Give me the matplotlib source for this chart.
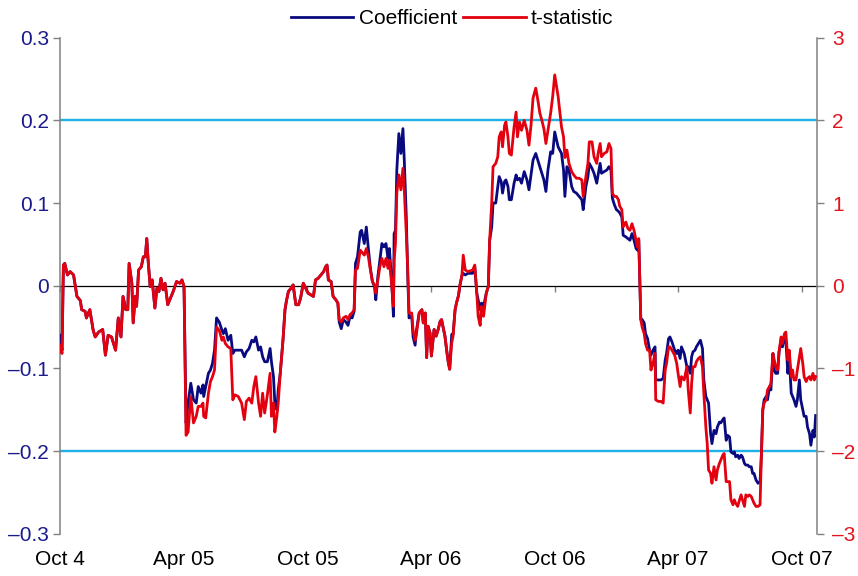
import matplotlib
matplotlib.use("Agg")
import matplotlib.pyplot as plt
import matplotlib.dates as mdates
import pandas as pd

plt.rcParams['font.family'] = ['Liberation Sans', 'DejaVu Sans']

# ---------------- data ----------------
start_date = "2004-10-01"
end_offset_days = 1117

day_offsets = [
    0, 3, 5, 7, 11, 15, 20, 25, 30, 32, 37, 39, 44, 49, 52, 57, 63, 67, 71, 76,
    82, 86, 90, 93, 97, 100, 102, 106, 108, 111, 113, 116, 120, 123, 126, 128, 130, 133, 136, 140,
    143, 146, 149, 152, 155, 159, 162, 167, 172, 177, 180, 183,
    186, 189, 193, 197, 201, 204, 208, 211, 212, 215, 219, 222, 225, 228, 231, 235, 239, 241, 244, 248,
    252, 255, 258, 263, 268, 272, 275, 279, 283, 286, 289, 293, 296, 299, 302, 306, 310, 312, 315, 317,
    320, 322, 325, 329, 332, 334, 337, 341, 344, 348, 352, 355, 359,
    366, 374, 377, 381, 385, 389, 392, 394, 396, 400, 403, 407, 410, 412, 415, 418, 422, 425, 428, 431,
    434, 436, 439, 443, 445, 449, 452, 455, 458, 461, 464, 466, 469, 472, 475, 478, 481, 484, 486, 489,
    492, 493, 495, 497, 500, 503, 506, 508, 511, 513, 515, 519, 521, 524, 526,
    530, 534, 536, 539, 541, 543, 546, 548, 552, 555, 558, 561, 563, 566, 568, 571, 573, 575, 578, 580,
    583, 585, 588, 590, 593,
    595, 598, 602, 609, 612, 615, 617, 620, 622, 625, 629, 632, 634, 637, 639, 643, 646, 648, 651, 653,
    656, 658, 661, 663, 666, 670, 673, 675, 678, 681, 685, 689, 692, 695, 698, 702, 705, 708, 711, 714,
    717, 720, 724, 727,
    730, 735, 740, 743, 745, 748, 751, 755, 758, 762, 766, 770, 772, 776, 779, 781, 785, 788, 792, 794,
    797, 799, 803, 807, 810, 813, 815, 818, 821, 824, 826, 829, 831, 835, 838, 841, 844, 847, 850, 852,
    854,
    857, 859, 862, 864, 867, 870, 872, 875, 878, 879, 883, 887, 890, 893, 895, 898, 900, 903, 907, 910,
    912, 915, 917, 921,
    925, 927, 930, 932, 934, 937, 939, 942, 945, 948, 950, 953, 955, 957, 960, 962, 965, 968, 970, 973,
    975, 978, 980, 983, 985, 988, 990, 993, 995, 997, 1000, 1002, 1005, 1007, 1010, 1012, 1015, 1017, 1020, 1022,
    1024, 1027, 1030, 1033, 1035, 1037, 1039, 1042, 1044, 1047, 1049, 1052, 1054, 1056, 1059, 1061, 1064, 1066, 1069, 1071,
    1074, 1076, 1079, 1081, 1083, 1086, 1088, 1091, 1093, 1096, 1098, 1101, 1103, 1106, 1108, 1111, 1113, 1115,
]

coefficient = [
    -0.060, -0.078, 0.025, 0.027, 0.013, 0.017, 0.013, -0.013, -0.018, -0.029,
    -0.031, -0.039, -0.029, -0.054, -0.062, -0.056, -0.053, -0.084, -0.060, -0.062,
    -0.078, -0.039, -0.062, -0.013, -0.029, -0.029, 0.027, 0.003, -0.045, -0.013,
    -0.025, 0.019, 0.023, 0.035, 0.035, 0.057, 0.031, -0.001, 0.007, -0.027,
    -0.003, -0.007, 0.009, -0.005, 0.003, -0.023, -0.017, -0.007, 0.005, 0.003,
    0.007, -0.001,
    -0.166, -0.142, -0.118, -0.138, -0.142, -0.122, -0.130, -0.120, -0.134, -0.122,
    -0.106, -0.102, -0.094, -0.078, -0.039, -0.044, -0.054, -0.058, -0.052, -0.066,
    -0.060, -0.082, -0.078, -0.078, -0.078, -0.086, -0.080, -0.076, -0.066, -0.068,
    -0.062, -0.078, -0.074, -0.086, -0.092, -0.092, -0.076, -0.092, -0.110, -0.142,
    -0.150, -0.126, -0.106, -0.066, -0.029, -0.019, -0.007, -0.003, 0.001, -0.023,
    -0.023, -0.015, 0.003,
    -0.009, -0.013, 0.007, 0.009, 0.013, 0.017, 0.023, 0.025, 0.007, 0.005,
    -0.013, -0.017, -0.021, -0.044, -0.052, -0.041, -0.044, -0.048, -0.037, -0.039,
    -0.031, 0.027, 0.035, 0.065, 0.067, 0.051, 0.071, 0.045, 0.021, 0.005,
    -0.001, -0.017, 0.011, 0.031, 0.051, 0.047, 0.051, 0.033, 0.045, 0.011,
    -0.037, 0.063, 0.067, 0.140, 0.184, 0.160, 0.190, 0.152, 0.083, 0.015,
    -0.039, -0.037, -0.062, -0.072, -0.054,
    -0.033, -0.029, -0.045, -0.033, -0.087, -0.049, -0.057, -0.085, -0.053, -0.061,
    -0.053, -0.043, -0.041, -0.053, -0.061, -0.081, -0.093, -0.101, -0.059, -0.059,
    -0.029, -0.021, -0.012, 0.000, 0.012,
    0.015, 0.013, 0.015, 0.015, 0.023, -0.009, -0.017, -0.029, -0.021, -0.025,
    -0.009, -0.001, 0.055, 0.071, 0.100, 0.100, 0.120, 0.132, 0.126, 0.112,
    0.126, 0.128, 0.120, 0.104, 0.104, 0.124, 0.134, 0.128, 0.130, 0.124,
    0.138, 0.128, 0.116, 0.134, 0.152, 0.160, 0.152, 0.144, 0.136, 0.128,
    0.114, 0.140, 0.162, 0.160,
    0.186, 0.168, 0.160, 0.140, 0.108, 0.144, 0.140, 0.120, 0.114, 0.112,
    0.108, 0.104, 0.092, 0.120, 0.132, 0.148, 0.142, 0.136, 0.124, 0.134,
    0.148, 0.136, 0.138, 0.140, 0.144, 0.140, 0.106, 0.098, 0.092, 0.090,
    0.088, 0.083, 0.061, 0.059, 0.057, 0.055, 0.063, 0.055, 0.045, 0.043,
    0.055,
    -0.041, -0.041, -0.045, -0.058, -0.064, -0.078, -0.084, -0.078, -0.074, -0.114,
    -0.114, -0.114, -0.112, -0.090, -0.082, -0.064, -0.062, -0.068, -0.078, -0.082,
    -0.078, -0.088, -0.074, -0.082,
    -0.098, -0.098, -0.106, -0.086, -0.080, -0.078, -0.074, -0.070, -0.066, -0.076,
    -0.114, -0.134, -0.138, -0.142, -0.179, -0.191, -0.175, -0.179, -0.171, -0.165,
    -0.166, -0.162, -0.160, -0.187, -0.181, -0.183, -0.201, -0.203, -0.201, -0.207,
    -0.205, -0.209, -0.205, -0.207, -0.215, -0.217, -0.217, -0.219, -0.219, -0.227,
    -0.227, -0.235, -0.239, -0.237, -0.203, -0.150, -0.138, -0.134, -0.138, -0.122,
    -0.126, -0.082, -0.102, -0.106, -0.106, -0.080, -0.066, -0.074, -0.062, -0.066,
    -0.106, -0.086, -0.130, -0.134, -0.138, -0.146, -0.138, -0.114, -0.138, -0.150,
    -0.158, -0.158, -0.171, -0.179, -0.193, -0.175, -0.183, -0.157,
]

t_statistic = [
    -0.72, -0.82, 0.25, 0.27, 0.13, 0.17, 0.13, -0.13, -0.18, -0.29,
    -0.31, -0.39, -0.29, -0.54, -0.62, -0.56, -0.53, -0.84, -0.60, -0.62,
    -0.78, -0.39, -0.62, -0.13, -0.29, -0.29, 0.27, 0.03, -0.45, -0.13,
    -0.25, 0.19, 0.23, 0.35, 0.35, 0.57, 0.31, -0.01, 0.07, -0.27,
    -0.03, -0.07, 0.09, -0.05, 0.03, -0.23, -0.17, -0.07, 0.05, 0.03,
    0.07, -0.01,
    -1.81, -1.77, -1.34, -1.66, -1.58, -1.46, -1.46, -1.42, -1.58, -1.60,
    -1.30, -1.16, -1.10, -1.02, -0.50, -0.54, -0.66, -0.62, -0.70, -0.74,
    -0.76, -1.38, -1.32, -1.34, -1.42, -1.62, -1.40, -1.36, -1.42, -1.22,
    -1.10, -1.42, -1.58, -1.30, -1.54, -1.32, -1.06, -1.58, -1.42, -1.77,
    -1.58, -1.42, -1.06, -0.66, -0.29, -0.19, -0.07, -0.03, 0.01, -0.23,
    -0.23, -0.15, 0.03,
    -0.09, -0.13, 0.07, 0.09, 0.13, 0.17, 0.23, 0.25, 0.07, 0.05,
    -0.13, -0.17, -0.21, -0.41, -0.44, -0.39, -0.37, -0.41, -0.35, -0.33,
    -0.29, 0.19, 0.21, 0.43, 0.41, 0.37, 0.45, 0.35, 0.19, 0.05,
    0.01, -0.09, 0.07, 0.23, 0.33, 0.23, 0.33, 0.21, 0.31, 0.05,
    -0.25, 0.31, 0.51, 1.12, 1.34, 1.16, 1.42, 1.16, 0.63, 0.23,
    -0.33, -0.33, -0.54, -0.66, -0.58,
    -0.33, -0.29, -0.45, -0.33, -0.87, -0.49, -0.57, -0.85, -0.53, -0.61,
    -0.53, -0.43, -0.41, -0.53, -0.61, -0.81, -0.93, -1.01, -0.69, -0.61,
    -0.29, -0.21, -0.12, 0.00, 0.12,
    0.37, 0.19, 0.17, 0.19, 0.25, -0.09, -0.37, -0.48, -0.25, -0.37,
    -0.09, -0.01, 0.55, 1.00, 1.44, 1.48, 1.56, 1.80, 1.86, 1.68,
    1.94, 1.98, 1.80, 1.60, 1.58, 1.92, 2.10, 1.80, 1.98, 1.88,
    2.00, 1.88, 1.70, 1.94, 2.27, 2.39, 2.25, 2.09, 2.00, 1.90,
    1.72, 1.88, 2.09, 2.29,
    2.55, 2.29, 1.92, 1.80, 1.55, 1.64, 1.48, 1.38, 1.34, 1.30,
    1.30, 1.28, 1.08, 1.32, 1.48, 1.74, 1.74, 1.56, 1.48, 1.60,
    1.72, 1.56, 1.60, 1.62, 1.72, 1.66, 1.12, 1.08, 1.08, 1.04,
    0.96, 0.92, 0.71, 0.77, 0.69, 0.67, 0.75, 0.67, 0.55, 0.47,
    0.57,
    -0.41, -0.50, -0.58, -0.70, -0.78, -0.78, -1.02, -0.94, -0.82, -1.38,
    -1.40, -1.40, -1.42, -1.02, -0.94, -0.74, -0.74, -0.78, -0.84, -0.94,
    -1.06, -1.22, -1.10, -1.14,
    -0.98, -1.26, -1.54, -1.18, -0.98, -0.98, -0.92, -0.88, -0.86, -0.98,
    -1.30, -1.71, -1.91, -2.23, -2.27, -2.39, -2.19, -2.35, -2.23, -2.15,
    -2.11, -2.05, -2.03, -2.37, -2.37, -2.37, -2.59, -2.65, -2.59, -2.63,
    -2.67, -2.61, -2.53, -2.59, -2.67, -2.53, -2.55, -2.53, -2.55, -2.59,
    -2.63, -2.67, -2.67, -2.65, -2.03, -1.50, -1.42, -1.38, -1.26, -1.22,
    -1.18, -0.82, -0.90, -0.98, -1.02, -0.80, -0.62, -0.70, -0.58, -0.56,
    -0.90, -0.78, -1.10, -1.02, -1.14, -1.14, -1.02, -0.86, -0.76, -0.94,
    -1.10, -1.16, -1.12, -1.10, -1.14, -1.06, -1.14, -1.10,
]

tick_dates = ["2004-10-01", "2005-04-01", "2005-10-01", "2006-04-01",
              "2006-10-01", "2007-04-01", "2007-10-01"]
tick_labels = ["Oct 4", "Apr 05", "Oct 05", "Apr 06", "Oct 06", "Apr 07", "Oct 07"]

left_ticks = [0.3, 0.2, 0.1, 0.0, -0.1, -0.2, -0.3]
left_labels = ["0.3", "0.2", "0.1", "0", "\u20130.1", "\u20130.2", "\u20130.3"]
right_ticks = [3, 2, 1, 0, -1, -2, -3]
right_labels = ["3", "2", "1", "0", "\u20131", "\u20132", "\u20133"]
coef_threshold = 0.2

# ---------------- styling ----------------
NAVY = "#0a0a80"
RED = "#e3000f"
CYAN = "#1eb0e6"
GREY = "#808080"
LEFT_TXT = "#1a1a8c"
RIGHT_TXT = "#e3141c"
FS = 15

start = pd.Timestamp(start_date)
dates = start + pd.to_timedelta(day_offsets, unit="D")
x = mdates.date2num(dates.to_pydatetime())
x0 = mdates.date2num(start.to_pydatetime())
x1 = mdates.date2num((start + pd.Timedelta(days=end_offset_days)).to_pydatetime())
xt = mdates.date2num(pd.to_datetime(tick_dates).to_pydatetime())

fig = plt.figure(figsize=(8.58, 5.76), dpi=100)
ax = fig.add_axes([60 / 858, (576 - 533.7) / 576, 757 / 858, 496 / 576])
ax2 = ax.twinx()

ax.set_xlim(x0, x1)
ax.set_ylim(-0.3, 0.3)
ax2.set_ylim(-3, 3)

ax.axhline(coef_threshold, color=CYAN, lw=1.7, zorder=1)
ax.axhline(-coef_threshold, color=CYAN, lw=1.7, zorder=1)

l1, = ax.plot(x, coefficient, color=NAVY, lw=2.0, zorder=3, label="Coefficient")
l2, = ax2.plot(x, t_statistic, color=RED, lw=2.0, zorder=3, label="t-statistic")

# spines
ax.spines["top"].set_visible(False)
ax.spines["right"].set_visible(False)
ax.spines["left"].set_color(GREY)
ax.spines["left"].set_linewidth(1.1)
ax.spines["bottom"].set_position(("data", 0))
ax.spines["bottom"].set_color("black")
ax.spines["bottom"].set_linewidth(0.9)
ax.spines["bottom"].set_zorder(2)
for s in ["top", "bottom", "left"]:
    ax2.spines[s].set_visible(False)
ax2.spines["right"].set_color(GREY)
ax2.spines["right"].set_linewidth(1.1)

# y ticks
ax.set_yticks(left_ticks)
ax.set_yticklabels(left_labels)
ax.tick_params(axis="y", direction="out", length=5, width=1, color=GREY,
               labelcolor=LEFT_TXT, labelsize=FS, pad=3)
ax2.set_yticks(right_ticks)
ax2.set_yticklabels(right_labels)
ax2.tick_params(axis="y", direction="out", length=5, width=1, color=GREY,
                labelcolor=RIGHT_TXT, labelsize=FS, pad=6)

# x ticks on the zero line, labels at the bottom
ax.set_xticks(xt)
ax.tick_params(axis="x", direction="out", length=4, width=1, color=GREY,
               labelbottom=False)
sec = ax.secondary_xaxis("bottom")
sec.set_xticks(xt)
sec.set_xticklabels(tick_labels)
sec.tick_params(axis="x", length=0, pad=12, labelsize=FS, labelcolor="black")
sec.spines["bottom"].set_visible(False)

fig.legend([l1, l2], ["Coefficient", "t-statistic"], loc="center",
           bbox_to_anchor=(452 / 858, 1 - 18.5 / 576), ncol=2, frameon=False,
           fontsize=FS, handlelength=3.0, handletextpad=0.25,
           columnspacing=0.3, borderpad=0, borderaxespad=0)

fig.savefig("out.png", dpi=100)
